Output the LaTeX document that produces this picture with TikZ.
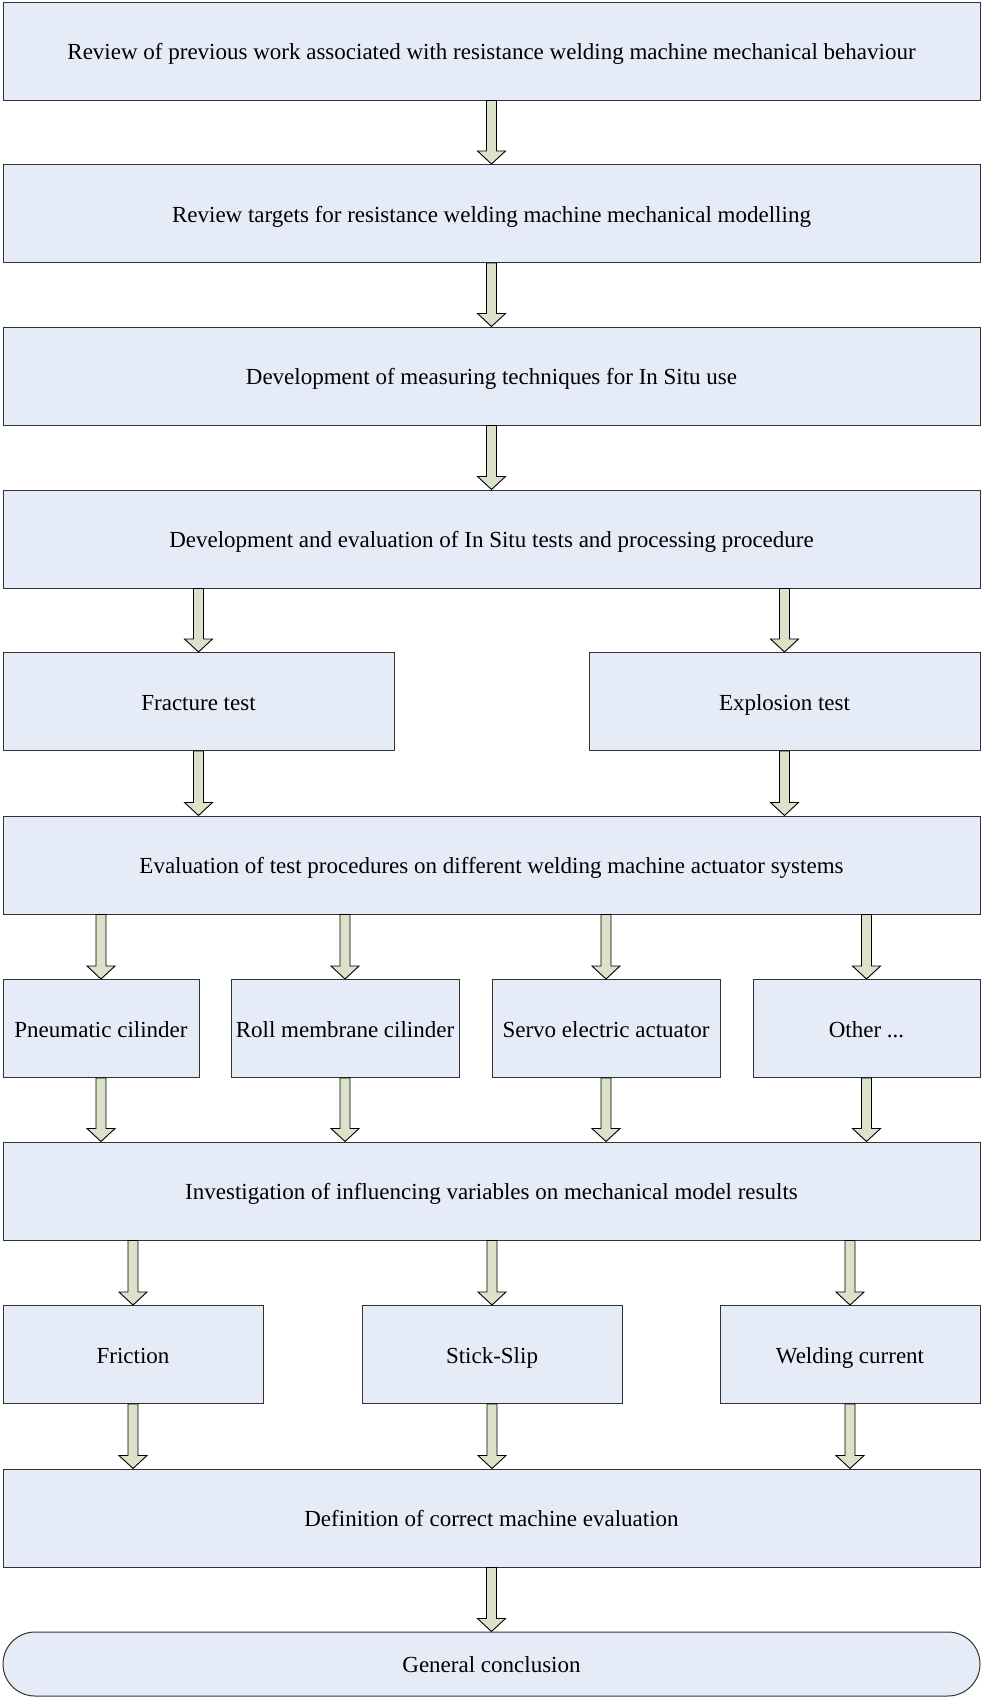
\documentclass[tikz,border=0pt]{standalone}
\usepackage{fontspec}
\setmainfont{Liberation Serif}
\usetikzlibrary{calc}
\definecolor{boxfill}{HTML}{E6ECF7}
\definecolor{arrowfill}{HTML}{DCE1CA}
\definecolor{boxline}{HTML}{333333}
\tikzset{
  stepbox/.style={draw=boxline, line width=1pt, fill=boxfill, rectangle,
    inner sep=0pt, font=\fontsize{23}{27}\selectfont, text=black,
    text height=19pt, text depth=2pt},
  endbox/.style={stepbox, rounded corners=32pt},
  blockarrow/.style={draw=black, line width=0.9pt, fill=arrowfill, line join=miter},
}
% hollow block arrow from point #1 down to point #2
\newcommand{\flowarrow}[2]{%
  \coordinate (arrfrom) at (#1);
  \coordinate (arrto) at (#2);
  \path[blockarrow] let \p1=(arrfrom), \p2=(arrto) in
    (\x1-5pt,\y1) -- (\x1-5pt,\y2+13pt) -- (\x1-14pt,\y2+13pt) -- (\x1,\y2)
    -- (\x1+14pt,\y2+13pt) -- (\x1+5pt,\y2+13pt) -- (\x1+5pt,\y1) -- cycle;}
\begin{document}
\begin{tikzpicture}[x=1pt,y=-1pt]
\useasboundingbox[fill=white] (0,0) rectangle (981,1697);

\node[stepbox, minimum width=977pt, minimum height=98pt] (review) at (491.5,51)
  {Review of previous work associated with resistance welding machine mechanical behaviour};
\node[stepbox, minimum width=977pt, minimum height=98pt] (targets) at (491.5,213.5)
  {Review targets for resistance welding machine mechanical modelling};
\node[stepbox, minimum width=977pt, minimum height=98pt] (measure) at (491.5,376)
  {Development of measuring techniques for In Situ use};
\node[stepbox, minimum width=977pt, minimum height=98pt] (insitu) at (491.5,539)
  {Development and evaluation of In Situ tests and processing procedure};

\node[stepbox, minimum width=391pt, minimum height=98pt] (fracture) at (198.5,701.5) {Fracture test};
\node[stepbox, minimum width=391pt, minimum height=98pt] (explosion) at (784.5,701.5) {Explosion test};

\node[stepbox, minimum width=977pt, minimum height=98pt] (evaluation) at (491.5,865)
  {Evaluation of test procedures on different welding machine actuator systems};

\node[stepbox, minimum width=196pt, minimum height=98pt] (pneumatic) at (101,1028.5) {Pneumatic cilinder};
\node[stepbox, minimum width=228pt, minimum height=98pt] (membrane) at (345,1028.5) {Roll membrane cilinder};
\node[stepbox, minimum width=228pt, minimum height=98pt] (servo) at (606,1028.5) {Servo electric actuator};
\node[stepbox, minimum width=227pt, minimum height=98pt] (other) at (866.5,1028.5) {Other ...};

\node[stepbox, minimum width=977pt, minimum height=98pt] (variables) at (491.5,1191)
  {Investigation of influencing variables on mechanical model results};

\node[stepbox, minimum width=260pt, minimum height=98pt] (friction) at (133,1354.5) {Friction};
\node[stepbox, minimum width=260pt, minimum height=98pt] (stickslip) at (492,1354.5) {Stick-Slip};
\node[stepbox, minimum width=260pt, minimum height=98pt] (current) at (850,1354.5) {Welding current};

\node[stepbox, minimum width=977pt, minimum height=98pt] (definition) at (491.5,1518)
  {Definition of correct machine evaluation};

\node[endbox, minimum width=977pt, minimum height=64pt] (conclusion) at (491.5,1664)
  {General conclusion};

% connectors
\flowarrow{review.south}{targets.north}
\flowarrow{targets.south}{measure.north}
\flowarrow{measure.south}{insitu.north}

\flowarrow{insitu.south -| fracture.north}{fracture.north}
\flowarrow{insitu.south -| explosion.north}{explosion.north}
\flowarrow{fracture.south}{evaluation.north -| fracture.south}
\flowarrow{explosion.south}{evaluation.north -| explosion.south}

\foreach \n in {pneumatic,membrane,servo,other}{
  \flowarrow{evaluation.south -| \n.north}{\n.north}
  \flowarrow{\n.south}{variables.north -| \n.south}
}

\foreach \n in {friction,stickslip,current}{
  \flowarrow{variables.south -| \n.north}{\n.north}
  \flowarrow{\n.south}{definition.north -| \n.south}
}

\flowarrow{definition.south}{conclusion.north}
\end{tikzpicture}
\end{document}
